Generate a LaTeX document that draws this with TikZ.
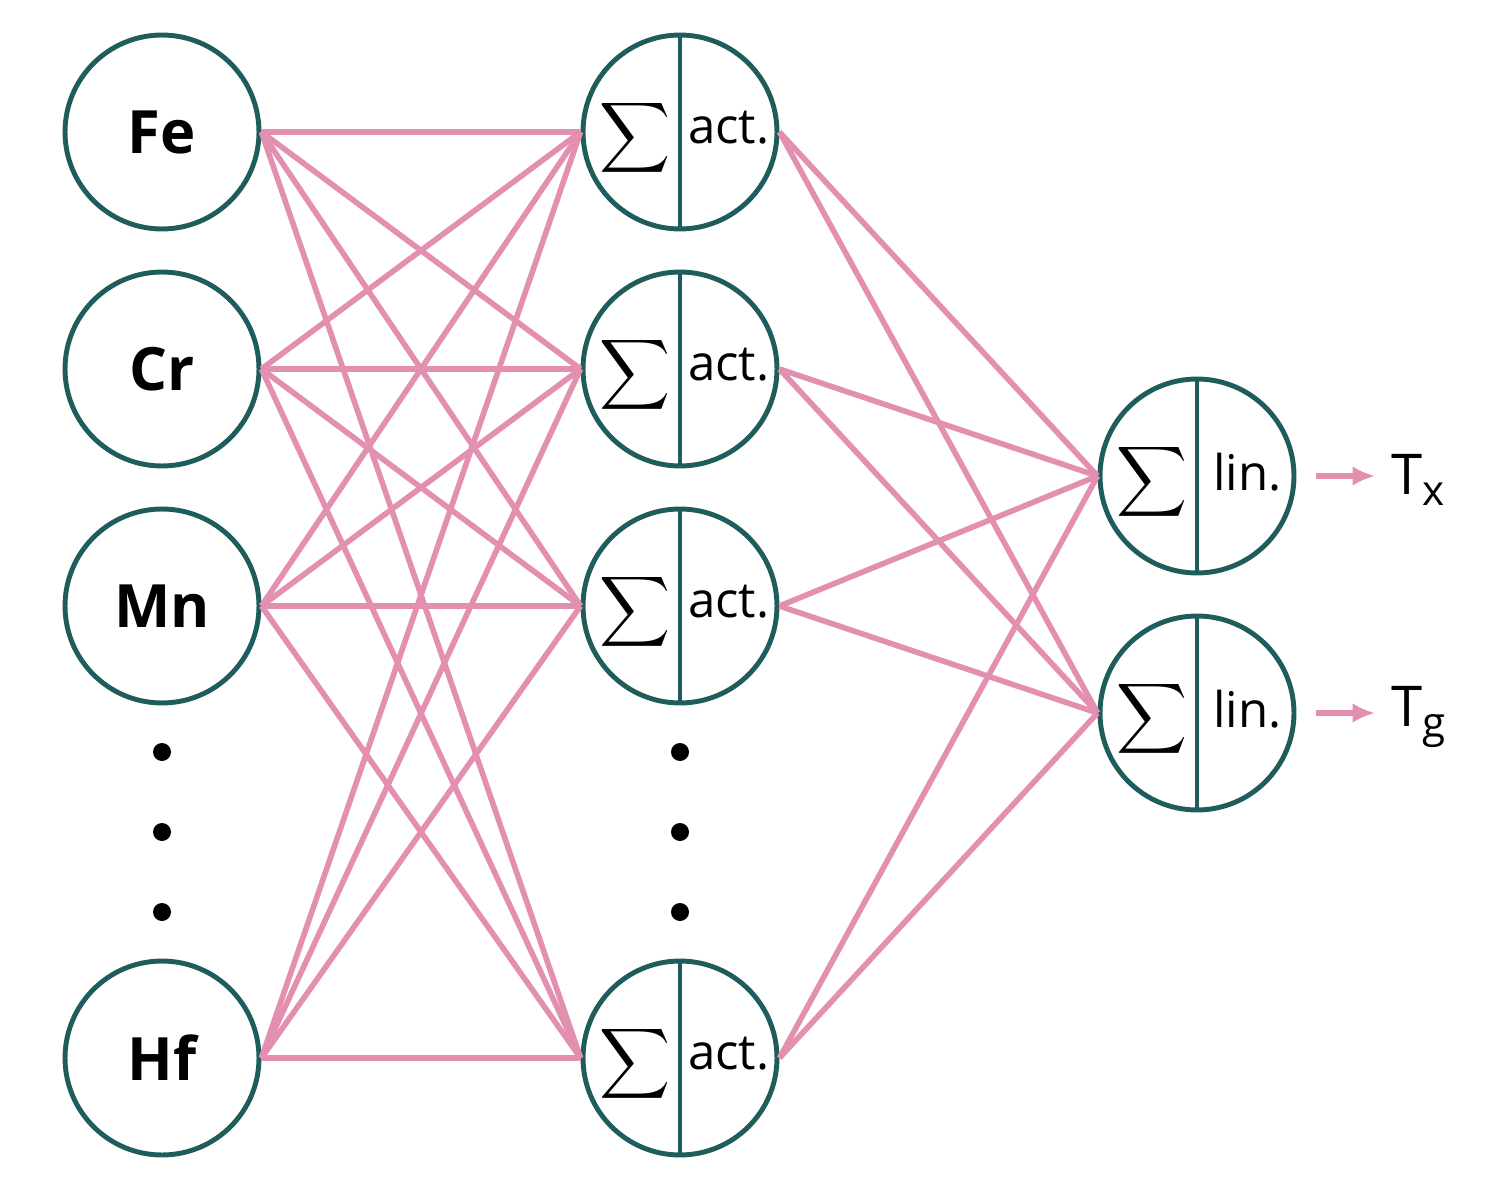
\documentclass[tikz,border=0pt]{standalone}
\usepackage{fontspec}
\setmainfont{Open Sans}
\usetikzlibrary{arrows.meta}
\definecolor{teal}{HTML}{1F5C5C}
\definecolor{pinkc}{HTML}{E38FB0}
\newcommand{\bigsig}{\scalebox{2.8}{$\displaystyle\sum$}}
\begin{document}
\begin{tikzpicture}[x=0.02cm,y=-0.02cm,
  neuron/.style={circle,draw=teal,line width=2.8pt,minimum size=3.88cm,inner sep=0pt,fill=white},
  inlab/.style={font=\fontsize{34}{34}\selectfont\bfseries},
  edge/.style={draw=pinkc,line width=3.2pt},
  dot/.style={circle,fill=black,minimum size=0.36cm,inner sep=0pt}]
\useasboundingbox (0,0) rectangle (1512,1203);
% inputs
\foreach \n/\t/\y in {i1/Fe/132,i2/Cr/369,i3/Mn/606,i4/Hf/1058}
  \node[neuron,inlab] (\n) at (162,\y) {\t};
% hidden
\foreach \n/\y in {h1/132,h2/369,h3/606,h4/1058}{
  \node[neuron] (\n) at (680,\y) {};
  \draw[teal,line width=2.8pt] (\n.north) -- (\n.south);
  \node at (635,\y+6) {\bigsig};
  \node[font=\fontsize{28}{28}\selectfont,anchor=west] at (682,\y-4) {act.};
}
% outputs
\foreach \n/\y in {o1/476,o2/713}{
  \node[neuron] (\n) at (1197,\y) {};
  \draw[teal,line width=2.8pt] (\n.north) -- (\n.south);
  \node at (1152,\y+6) {\bigsig};
  \node[font=\fontsize{28}{28}\selectfont,anchor=west] at (1207,\y-4) {lin.};
}
\foreach \x in {162,680}\foreach \y in {752,832,912}\node[dot] at (\x,\y) {};
% edges
\foreach \a in {i1,i2,i3,i4}\foreach \b in {h1,h2,h3,h4}
  \draw[edge] (\a.east) -- (\b.west);
\foreach \a in {h1,h2,h3,h4}\foreach \b in {o1,o2}
  \draw[edge] (\a.east) -- (\b.west);
% outputs arrows
\coordinate (a1) at (1375,476); \coordinate (a2) at (1375,713);
\draw[edge,-{Latex[length=0.45cm,width=0.4cm]}] (o1.east)++(20,0) -- (a1);
\draw[edge,-{Latex[length=0.45cm,width=0.4cm]}] (o2.east)++(20,0) -- (a2);
\node[font=\fontsize{32}{32}\selectfont,anchor=west] (tx) at (1385,480) {T\raisebox{-0.35ex}{\fontsize{24}{24}\selectfont x}};
\node[font=\fontsize{32}{32}\selectfont,anchor=west] (tg) at (1385,717) {T\raisebox{-0.35ex}{\fontsize{24}{24}\selectfont g}};
\end{tikzpicture}
\end{document}
